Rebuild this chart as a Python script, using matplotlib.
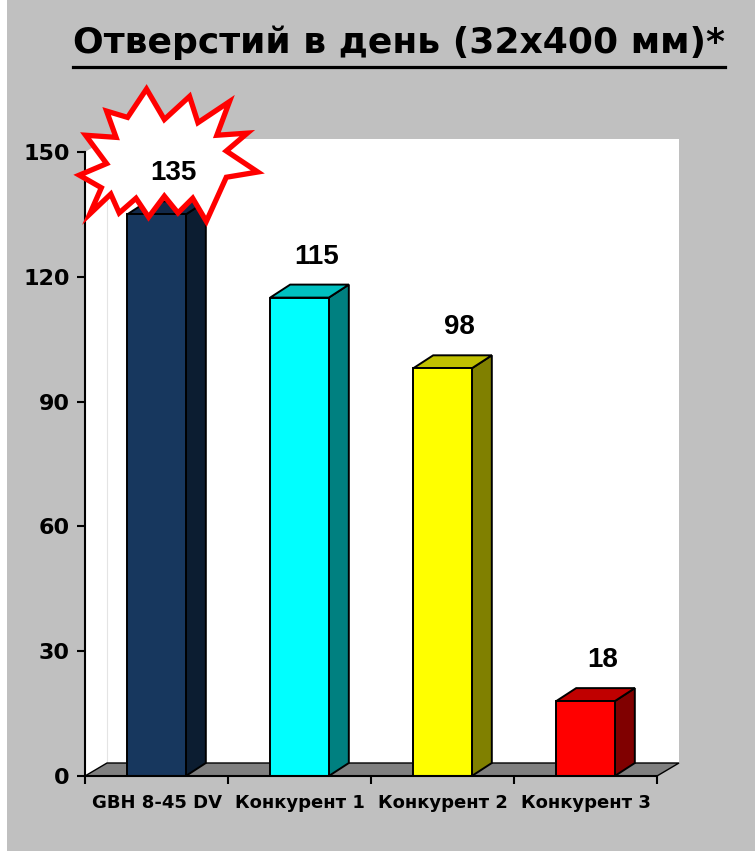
import matplotlib

matplotlib.use("Agg")

import matplotlib.pyplot as plt
from matplotlib.lines import Line2D
from matplotlib.patches import Polygon, Rectangle
from matplotlib.transforms import IdentityTransform

# Chart data
categories = ["GBH 8-45 DV", "Конкурент 1", "Конкурент 2", "Конкурент 3"]
values = [135, 115, 98, 18]
y_ticks = [0, 30, 60, 90, 120, 150]
title = "Отверстий в день (32х400 мм)*"

front_colors = ["#17375E", "#00FFFF", "#FFFF00", "#FF0000"]
top_colors = ["#12294A", "#00C0C0", "#C0C000", "#C00000"]
side_colors = ["#0C1D31", "#008080", "#808000", "#800000"]

W, H = 755, 851
WALL_OFF = (22, 13)   # depth of floor / walls in pixels
BAR_OFF = (20, 13)    # depth of the bars in pixels
BAR_W = 0.41

plt.rcParams["font.family"] = ["DejaVu Sans"]
ARIAL = ["Liberation Sans", "DejaVu Sans"]

fig = plt.figure(figsize=(W / 100, H / 100), dpi=100)
fig.patch.set_facecolor("#C0C0C0")
fig.patches.append(Rectangle((0, 0), 7 / W, 1, transform=fig.transFigure,
                             facecolor="white", edgecolor="none", zorder=0))

ax = fig.add_axes([85 / W, 1 - 776 / H, (657 - 85) / W, (776 - 152) / H])
ax.set_xlim(-0.5, 3.5)
ax.set_ylim(0, 150)
ax.patch.set_visible(False)
for s in ("top", "right"):
    ax.spines[s].set_visible(False)
for s in ("left", "bottom"):
    ax.spines[s].set_linewidth(1.5)
    ax.spines[s].set_zorder(2.5)


def px(x, y, off=(0, 0)):
    X, Y = ax.transData.transform((x, y))
    return (X + off[0], Y + off[1])


def poly(pts, z, **kw):
    p = Polygon(pts, closed=True, transform=IdentityTransform(), clip_on=False,
                zorder=z, **kw)
    ax.add_artist(p)
    return p


x0, x1 = -0.5, 3.5
top = y_ticks[-1]
# back wall and side wall
poly([px(x0, 0, WALL_OFF), px(x1, 0, WALL_OFF), px(x1, top, WALL_OFF), px(x0, top, WALL_OFF)],
     0.5, facecolor="white", edgecolor="none")
poly([px(x0, 0), px(x0, 0, WALL_OFF), px(x0, top, WALL_OFF), px(x0, top)],
     0.5, facecolor="white", edgecolor="none")
a, b = px(x0, 0, WALL_OFF), px(x0, top, WALL_OFF)
ax.add_artist(Line2D([a[0], b[0]], [a[1], b[1]], color="#E4E4E4", lw=0.8,
                     transform=IdentityTransform(), clip_on=False, zorder=0.6))
# floor
poly([px(x0, 0), px(x1, 0), px(x1, 0, WALL_OFF), px(x0, 0, WALL_OFF)],
     0.7, facecolor="#808080", edgecolor="black", linewidth=1.0)

# bars
for i, v in enumerate(values):
    l, r = i - BAR_W / 2, i + BAR_W / 2
    kw = dict(edgecolor="black", linewidth=1.4, joinstyle="miter")
    poly([px(r, 0), px(r, 0, BAR_OFF), px(r, v, BAR_OFF), px(r, v)], 1.0,
         facecolor=side_colors[i], **kw)
    poly([px(l, v), px(r, v), px(r, v, BAR_OFF), px(l, v, BAR_OFF)], 1.0,
         facecolor=top_colors[i], **kw)
    poly([px(l, 0), px(r, 0), px(r, v), px(l, v)], 1.1,
         facecolor=front_colors[i], **kw)

# value labels
label_pos = []
for i, v in enumerate(values):
    ax.annotate(str(v), (i, v), xytext=(17 * 0.72, 41 * 0.72), textcoords="offset points",
                ha="center", va="center", fontsize=20, fontweight="bold", family=ARIAL,
                annotation_clip=False, zorder=6)
    label_pos.append(px(i, v, (17, 41)))

# starburst around the leading value (offsets in pixels from its label, image y down)
star = [(-26, -81), (-9, -52), (15, -74), (23, -49), (53, -69), (41, -37),
        (70, -39), (50, -22), (80, -2), (50, 3), (31, 45), (18, 23), (4, 37),
        (-9, 21), (-24, 41), (-36, 23), (-52, 37), (-60, 19), (-80, 38),
        (-69, 13), (-90, 1), (-64, -10), (-84, -37), (-55, -35), (-64, -60),
        (-44, -54)]
cx, cy = label_pos[0]
sx, sy, k = -6, -14, 1.05   # star centre relative to label, growth factor
poly([(cx + sx + (dx - sx) * k, cy - (sy + (dy - sy) * k)) for dx, dy in star], 4,
     facecolor="white", edgecolor="#FF0000", linewidth=3.8, joinstyle="miter")

# axes ticks
ax.set_yticks(y_ticks)
ax.tick_params(axis="y", direction="out", length=6, width=1.5, pad=5, labelsize=16)
for t in ax.get_yticklabels():
    t.set_fontweight("bold")
ax.set_xticks([-0.5, 0.5, 1.5, 2.5, 3.5])
ax.set_xticklabels([])
ax.tick_params(axis="x", which="major", direction="out", length=6, width=1.5)
ax.set_xticks(range(len(categories)), minor=True)
ax.set_xticklabels(categories, minor=True, fontsize=13, fontweight="bold")
ax.tick_params(axis="x", which="minor", length=0, pad=13)

# underlined title
t = fig.text(399 / W, 1 - 53 / H, title, ha="center", va="baseline",
             fontsize=26, fontweight="bold")
fig.canvas.draw()
bb = t.get_window_extent()
fig.add_artist(Line2D([bb.x0 / W, bb.x1 / W], [1 - 66.5 / H] * 2, color="black",
                      lw=2.3, transform=fig.transFigure))

fig.savefig("out.png", dpi=100, facecolor=fig.get_facecolor())
